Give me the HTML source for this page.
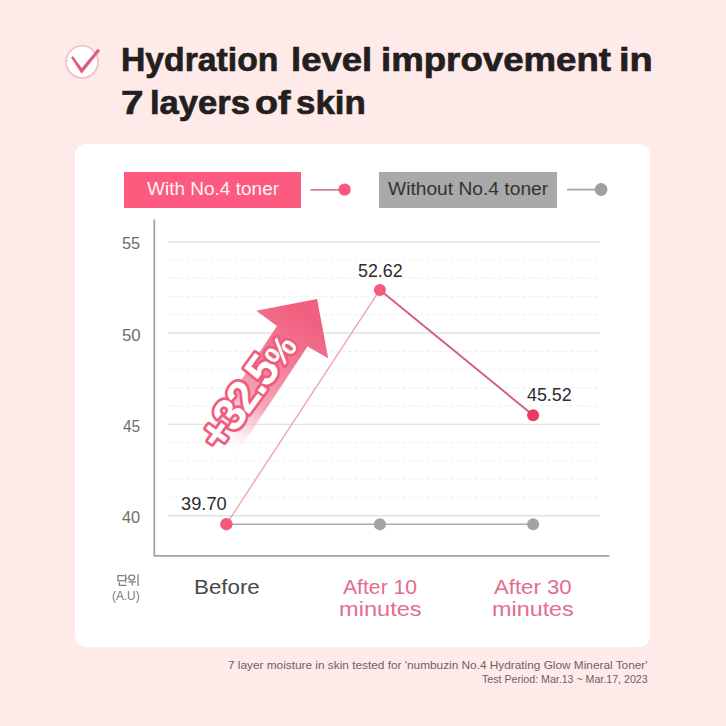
<!DOCTYPE html>
<html><head><meta charset="utf-8">
<style>
html,body{margin:0;padding:0;} 
body{width:726px;height:726px;overflow:hidden;position:relative;background:#feeae9;font-family:"Liberation Sans",sans-serif;}
.a{position:absolute;white-space:nowrap;line-height:1;transform-origin:0 0;}
svg.a{left:0;top:0;}
#card{left:74.8px;top:143.8px;width:575.5px;height:503px;background:#fff;border-radius:11px;}
.leg{height:36px;top:171.5px;}
#leg1{left:124px;width:177px;background:#fc5a7e;}
#leg2{left:379px;width:178px;background:#a9a9a9;}
</style></head>
<body>
<svg class="a" width="726" height="726" viewBox="0 0 726 726">
  <circle cx="82.1" cy="61.9" r="16" fill="#fff" stroke="#f2c4cf" stroke-width="1.9"/>
  <polygon points="71.44,57.45 81.54,73.2 99.71,50.82 97.69,49.18 81.76,68.52 72.76,56.55" fill="#dc5a7c" stroke="#dc5a7c" stroke-width="0.7" stroke-linejoin="round"/>
</svg>
<div id="card" class="a"></div>
<div id="leg1" class="a leg"></div>
<div id="leg2" class="a leg"></div>
<svg class="a" width="726" height="726" viewBox="0 0 726 726">
  <line x1="310.5" y1="189.8" x2="344.5" y2="189.8" stroke="#c98499" stroke-width="1.7"/>
  <circle cx="344.6" cy="189.6" r="6.2" fill="#f85a7e"/>
  <line x1="567" y1="189.7" x2="601.1" y2="189.7" stroke="#a6a6a6" stroke-width="1.7"/>
  <circle cx="601.1" cy="189.5" r="6.4" fill="#a0a0a0"/>
  <g stroke="#e2e2e2" stroke-width="1.4">
    <line x1="168" y1="241.7" x2="600" y2="241.7"/>
    <line x1="168" y1="333" x2="600" y2="333"/>
    <line x1="168" y1="424.4" x2="600" y2="424.4"/>
    <line x1="168" y1="515.7" x2="600" y2="515.7"/>
  </g>
  <g stroke="#f1f1f1" stroke-width="1.2" stroke-dasharray="3.5 2.5">
    <line x1="168" y1="260" x2="600" y2="260"/>
    <line x1="168" y1="278.2" x2="600" y2="278.2"/>
    <line x1="168" y1="296.5" x2="600" y2="296.5"/>
    <line x1="168" y1="314.7" x2="600" y2="314.7"/>
    <line x1="168" y1="351.3" x2="600" y2="351.3"/>
    <line x1="168" y1="369.5" x2="600" y2="369.5"/>
    <line x1="168" y1="387.8" x2="600" y2="387.8"/>
    <line x1="168" y1="406.1" x2="600" y2="406.1"/>
    <line x1="168" y1="442.7" x2="600" y2="442.7"/>
    <line x1="168" y1="460.9" x2="600" y2="460.9"/>
    <line x1="168" y1="479.2" x2="600" y2="479.2"/>
    <line x1="168" y1="497.4" x2="600" y2="497.4"/>
  </g>
  <path d="M154.3 219.4 V555.8 H609.5" fill="none" stroke="#a5a5a5" stroke-width="1.8"/>
  <line x1="226.4" y1="524.2" x2="533.1" y2="524.2" stroke="#aaa" stroke-width="1.6"/>
  <circle cx="379.9" cy="524.2" r="6" fill="#a3a3a3"/>
  <circle cx="533.1" cy="524.2" r="6" fill="#a3a3a3"/>
  <line x1="226.4" y1="524.2" x2="379.9" y2="289.9" stroke="#eea3b6" stroke-width="1.4"/>
  <line x1="379.9" y1="289.9" x2="533.1" y2="415.2" stroke="#d45f7d" stroke-width="2"/>
  <circle cx="226.4" cy="524.2" r="6.2" fill="#f55a7c"/>
  <circle cx="379.9" cy="289.9" r="6" fill="#f55a7c"/>
  <circle cx="533.1" cy="415.2" r="6" fill="#e83a62"/>
  <defs>
    <linearGradient id="ag" gradientUnits="userSpaceOnUse" x1="306" y1="318" x2="228" y2="446">
      <stop offset="0" stop-color="#f1607f"/>
      <stop offset="0.25" stop-color="#f27591"/>
      <stop offset="0.65" stop-color="#f49ab0" stop-opacity="0.9"/>
      <stop offset="0.85" stop-color="#f8c0cd" stop-opacity="0.5"/>
      <stop offset="1" stop-color="#fde0e6" stop-opacity="0"/>
    </linearGradient>
  </defs>
  <path d="M256.3 310.7 L317.1 299 L328.2 358.2 L307.5 346.5 L235.9 454.9 L205.3 434.5 L276.9 326.1 Z" fill="url(#ag)"/>
  <g fill="none" stroke="#808080" stroke-width="1.3">
    <path d="M124.5 575.7 H117.9 V580.6 H124.8"/>
    <path d="M125.6 574.3 V582.6 M125.6 578.7 H127.4"/>
    <path d="M119.3 581.8 V585.4 H126.2"/>
    <ellipse cx="131.7" cy="577.6" rx="3" ry="2.5"/>
    <path d="M128.4 581.8 H136.1 M132.2 581.8 V585.6"/>
    <path d="M138 574.3 V586"/>
  </g>
</svg>
<div class="a" style="left:121.19px;top:43.3px;font-size:33.6px;font-weight:bold;color:#231f20;transform:scaleX(1.0039);-webkit-text-stroke:0.7px #231f20;">Hydration</div>
<div class="a" style="left:291.13px;top:43.3px;font-size:33.6px;font-weight:bold;color:#231f20;transform:scaleX(1.0871);-webkit-text-stroke:0.7px #231f20;">level</div>
<div class="a" style="left:381.02px;top:43.3px;font-size:33.6px;font-weight:bold;color:#231f20;transform:scaleX(1.0909);-webkit-text-stroke:0.7px #231f20;">improvement</div>
<div class="a" style="left:618.94px;top:43.3px;font-size:33.6px;font-weight:bold;color:#231f20;transform:scaleX(1.1308);-webkit-text-stroke:0.7px #231f20;">in</div>
<div class="a" style="left:120.99px;top:85.6px;font-size:33.6px;font-weight:bold;color:#231f20;transform:scaleX(1.2062);-webkit-text-stroke:0.7px #231f20;">7</div>
<div class="a" style="left:149.64px;top:85.6px;font-size:33.6px;font-weight:bold;color:#231f20;transform:scaleX(1.0298);-webkit-text-stroke:0.7px #231f20;">layers</div>
<div class="a" style="left:255.08px;top:85.6px;font-size:33.6px;font-weight:bold;color:#231f20;transform:scaleX(1.1194);-webkit-text-stroke:0.7px #231f20;">of</div>
<div class="a" style="left:295.66px;top:85.6px;font-size:33.6px;font-weight:bold;color:#231f20;transform:scaleX(1.0391);-webkit-text-stroke:0.7px #231f20;">skin</div>
<div class="a" style="left:147.2px;top:181.1px;font-size:17.6px;font-weight:normal;color:#fff3f6;transform:scaleX(1.0803);">With No.4 toner</div>
<div class="a" style="left:387.9px;top:181.1px;font-size:17.6px;font-weight:normal;color:#333333;transform:scaleX(1.0918);">Without No.4 toner</div>
<div class="a" style="left:121.91px;top:235.3px;font-size:16.5px;font-weight:normal;color:#6e6e6e;transform:scaleX(0.9941);">55</div>
<div class="a" style="left:121.88px;top:326.7px;font-size:16.5px;font-weight:normal;color:#6e6e6e;transform:scaleX(1.0176);">50</div>
<div class="a" style="left:122.7px;top:417.5px;font-size:16.5px;font-weight:normal;color:#6e6e6e;transform:scaleX(0.9333);">45</div>
<div class="a" style="left:122.4px;top:508.9px;font-size:16.5px;font-weight:normal;color:#6e6e6e;transform:scaleX(0.9889);">40</div>
<div class="a" style="left:180.72px;top:495.3px;font-size:18.6px;font-weight:normal;color:#2c2c2c;transform:scaleX(0.9822);">39.70</div>
<div class="a" style="left:357.74px;top:261.8px;font-size:18.6px;font-weight:normal;color:#2c2c2c;transform:scaleX(0.96);">52.62</div>
<div class="a" style="left:527.1px;top:386.4px;font-size:18.6px;font-weight:normal;color:#2c2c2c;transform:scaleX(0.9609);">45.52</div>
<div class="a" style="left:193.64px;top:577.8px;font-size:19.8px;font-weight:normal;color:#484848;transform:scaleX(1.1286);">Before</div>
<div class="a" style="left:343.3px;top:577.5px;font-size:19.8px;font-weight:normal;color:#e26d8c;transform:scaleX(1.0696);">After 10</div>
<div class="a" style="left:339.41px;top:600.2px;font-size:19.8px;font-weight:normal;color:#e26d8c;transform:scaleX(1.1926);">minutes</div>
<div class="a" style="left:494.4px;top:577.5px;font-size:19.8px;font-weight:normal;color:#e26d8c;transform:scaleX(1.1203);">After 30</div>
<div class="a" style="left:492.12px;top:600.2px;font-size:19.8px;font-weight:normal;color:#e26d8c;transform:scaleX(1.1809);">minutes</div>
<div class="a" style="left:112.25px;top:589.7px;font-size:12.5px;font-weight:normal;color:#777777;transform:scaleX(0.9464);">(A.U)</div>
<div class="a" style="left:228.43px;top:659.9px;font-size:11px;font-weight:normal;color:#6b6266;transform:scaleX(1.0746);">7 layer moisture in skin tested for 'numbuzin No.4 Hydrating Glow Mineral Toner'</div>
<div class="a" style="left:482.4px;top:673.6px;font-size:11px;font-weight:normal;color:#6b6266;transform:scaleX(0.9655);">Test Period: Mar.13 ~ Mar.17, 2023</div>
<svg class="a" width="726" height="726" viewBox="0 0 726 726">
  <text x="246" y="407" transform="rotate(-54 246 391)" text-anchor="middle" font-family="Liberation Sans" font-size="45" font-weight="bold" letter-spacing="-2.5" fill="#fff" stroke="#ee5d7e" stroke-width="5.5" stroke-linejoin="round" paint-order="stroke">+32.5<tspan font-size="33" dx="1">%</tspan></text>
</svg>
</body></html>
